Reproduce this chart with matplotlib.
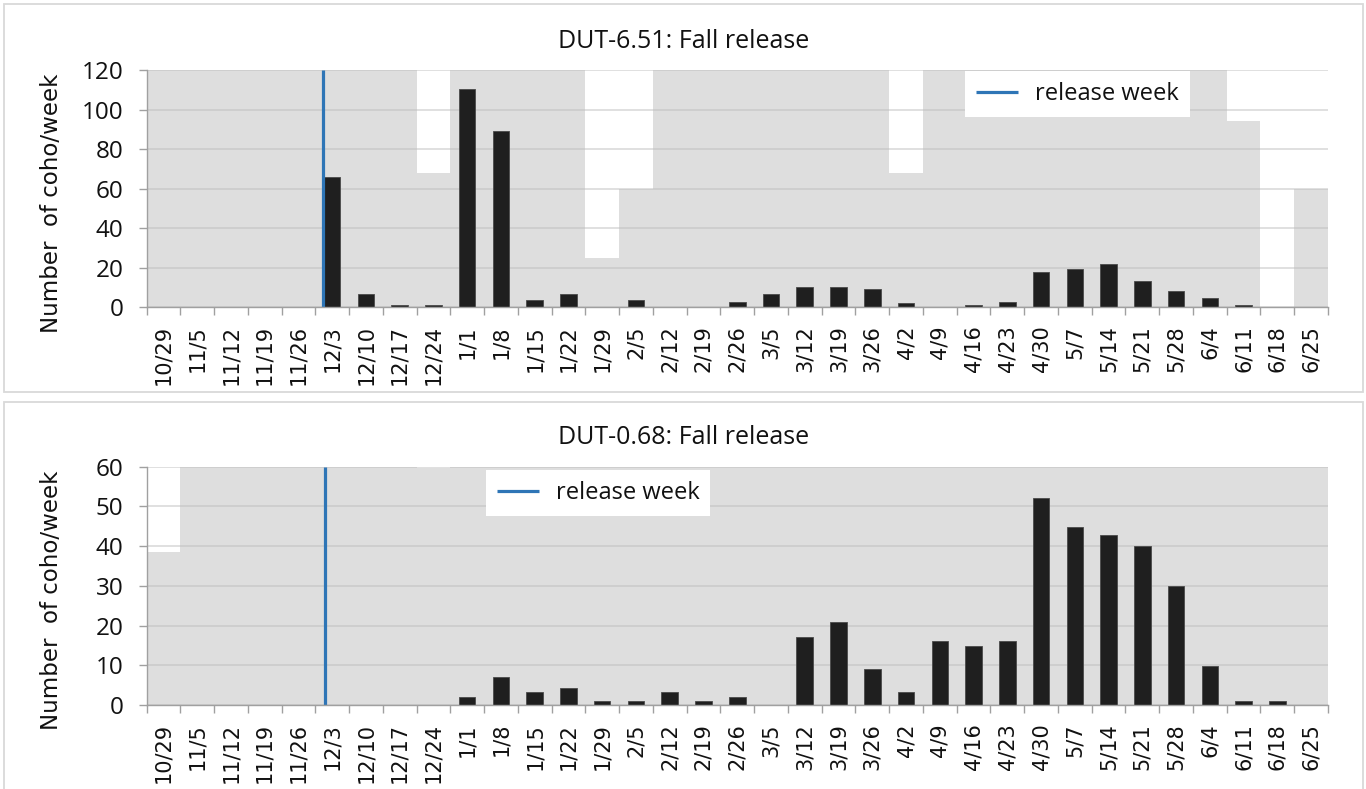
import matplotlib
matplotlib.use("Agg")
import matplotlib.pyplot as plt
from matplotlib.patches import Rectangle
import numpy as np

# ---------------- data ----------------
weeks = ['10/29', '11/5', '11/12', '11/19', '11/26', '12/3', '12/10', '12/17', '12/24',
         '1/1', '1/8', '1/15', '1/22', '1/29', '2/5', '2/12', '2/19', '2/26', '3/5',
         '3/12', '3/19', '3/26', '4/2', '4/9', '4/16', '4/23', '4/30', '5/7', '5/14',
         '5/21', '5/28', '6/4', '6/11', '6/18', '6/25']

# DUT-6.51 weekly coho counts
counts_651 = [0, 0, 0, 0, 0, 66.1, 6.5, 1.0, 1.0,
              110.6, 89.2, 3.8, 6.5, 0, 3.8, 0, 0, 2.9, 6.5,
              10.2, 10.2, 9.3, 2.1, 0, 1.0, 2.9, 17.6, 19.3, 22.1,
              13.1, 8.4, 4.8, 1.0, 0, 0]
# DUT-6.51 sampling coverage (gray background series)
coverage_651 = [120, 120, 120, 120, 120, 120, 120, 120, 68,
                120, 120, 120, 120, 25, 60, 120, 120, 120, 120,
                120, 120, 120, 68, 120, 120, 120, 120, 120, 120,
                120, 120, 120, 94, 0, 60]

# DUT-0.68 weekly coho counts
counts_068 = [0, 0, 0, 0, 0, 0, 0, 0, 0,
              2.0, 7.0, 3.3, 4.2, 1.0, 1.0, 3.3, 1.0, 2.0, 0,
              17.0, 21.0, 9.0, 3.2, 16.1, 14.8, 16.1, 52.0, 44.9, 42.7,
              40.0, 29.9, 9.8, 1.0, 1.0, 0]
# DUT-0.68 sampling coverage (gray background series)
coverage_068 = [38.5, 60, 60, 60, 60, 60, 60, 60, 59.7,
                60, 60, 60, 60, 60, 60, 60, 60, 60, 60,
                60, 60, 60, 60, 60, 60, 60, 60, 60, 60,
                60, 60, 60, 60, 60, 60]

release_week = '12/3'
release_offset_651 = -0.27   # fraction of a week relative to the week label
release_offset_068 = -0.21

titles = ['DUT-6.51: Fall release', 'DUT-0.68: Fall release']
ylabel = 'Number  of coho/week'
legend_label = 'release week'
yticks_651 = [0, 20, 40, 60, 80, 100, 120]
yticks_068 = [0, 10, 20, 30, 40, 50, 60]

# ---------------- style ----------------
W, H = 1366, 789
DPI = 100
GRAY_BG = '#dedede'
BAR = '#1f1f1f'
BLUE = '#2e75b6'
AXIS = '#a0a0a0'
GRID = '#bcbcbc'
TXT = '#111111'
FONT_MAIN = ['Open Sans', 'DejaVu Sans']
FONT_TICK = ['DejaVu Sans']

fig = plt.figure(figsize=(W / DPI, H / DPI), dpi=DPI)
fig.patch.set_facecolor('white')

def fx(px):
    return px / W

def fy(py):
    return 1 - py / H

# panel borders
fig.add_artist(Rectangle((fx(4), fy(392)), fx(1359), 388 / H, transform=fig.transFigure,
                         facecolor='none', edgecolor='#d9d9d9', lw=1.3))
fig.add_artist(Rectangle((fx(4), -0.02), fx(1359), fy(401.7) + 0.02, transform=fig.transFigure,
                         facecolor='none', edgecolor='#d9d9d9', lw=1.3))

panels = [
    dict(counts=counts_651, cover=coverage_651, yt=yticks_651, off=release_offset_651,
         top=70.0, bottom=307.3, title_base=48.5, ylab_y=203,
         leg=(0.6928, 0.9958)),
    dict(counts=counts_068, cover=coverage_068, yt=yticks_068, off=release_offset_068,
         top=466.7, bottom=705.0, title_base=444.0, ylab_y=600.5,
         leg=(0.2871, 0.9862)),
]

left_px, right_px = 146.5, 1328.0
x = np.arange(len(weeks))

for p, title in zip(panels, titles):
    ax = fig.add_axes([fx(left_px), fy(p['bottom']), (right_px - left_px) / W,
                       (p['bottom'] - p['top']) / H])
    ymax = p['yt'][-1]
    ax.set_facecolor('white')
    ax.bar(x, p['cover'], width=1.0, color=GRAY_BG, linewidth=0, zorder=0.2)
    ax.bar(x, p['counts'], width=0.49, color=BAR, edgecolor='#4a4a4a', linewidth=0.6, zorder=2)
    rx = weeks.index(release_week) + p['off']
    ax.plot([rx, rx], [0, ymax], color=BLUE, lw=2.3, zorder=3, label=legend_label,
            solid_capstyle='butt')

    ax.set_xlim(-0.5, len(weeks) - 0.5)
    ax.set_ylim(0, ymax)
    ax.set_axisbelow(True)
    ax.yaxis.grid(True, color=GRID, lw=1.1, alpha=0.6)
    ax.xaxis.grid(False)

    for s in ['top', 'right']:
        ax.spines[s].set_visible(False)
    for s in ['left', 'bottom']:
        ax.spines[s].set_color(AXIS)
        ax.spines[s].set_linewidth(1.0)
        ax.spines[s].set_zorder(4)

    ax.set_yticks(p['yt'])
    ax.set_yticklabels([str(v) for v in p['yt']], fontfamily=FONT_MAIN, fontsize=17.5, color=TXT)
    ax.tick_params(axis='y', direction='out', length=5.5, width=1.0, color=AXIS, pad=11)

    ax.set_xticks(np.arange(len(weeks) + 1) - 0.5)
    ax.set_xticklabels([])
    ax.tick_params(axis='x', which='major', direction='out', length=6, width=1.0, color=AXIS)
    ax.set_xticks(x, minor=True)
    ax.set_xticklabels(weeks, minor=True, rotation=90, fontfamily=FONT_TICK, fontsize=15,
                       color=TXT)
    ax.tick_params(axis='x', which='minor', length=0, pad=13)

    leg = ax.legend(loc='upper left', bbox_to_anchor=p['leg'], borderaxespad=0,
                    frameon=True, fancybox=False, framealpha=1, edgecolor='none',
                    facecolor='white', handlelength=1.8, handletextpad=0.7,
                    borderpad=0.46, prop={'family': FONT_MAIN, 'size': 17})
    for t in leg.get_texts():
        t.set_color(TXT)
    leg.set_zorder(6)

    fig.text(fx(684), fy(p['title_base']), title, ha='center', va='baseline',
             fontfamily=FONT_MAIN, fontsize=18, color=TXT)
    fig.text(fx(52), fy(p['ylab_y']), ylabel, rotation=90, ha='center', va='center',
             fontfamily=FONT_TICK, fontsize=16.5, color=TXT)

fig.savefig('out.png', dpi=DPI, facecolor='white')
